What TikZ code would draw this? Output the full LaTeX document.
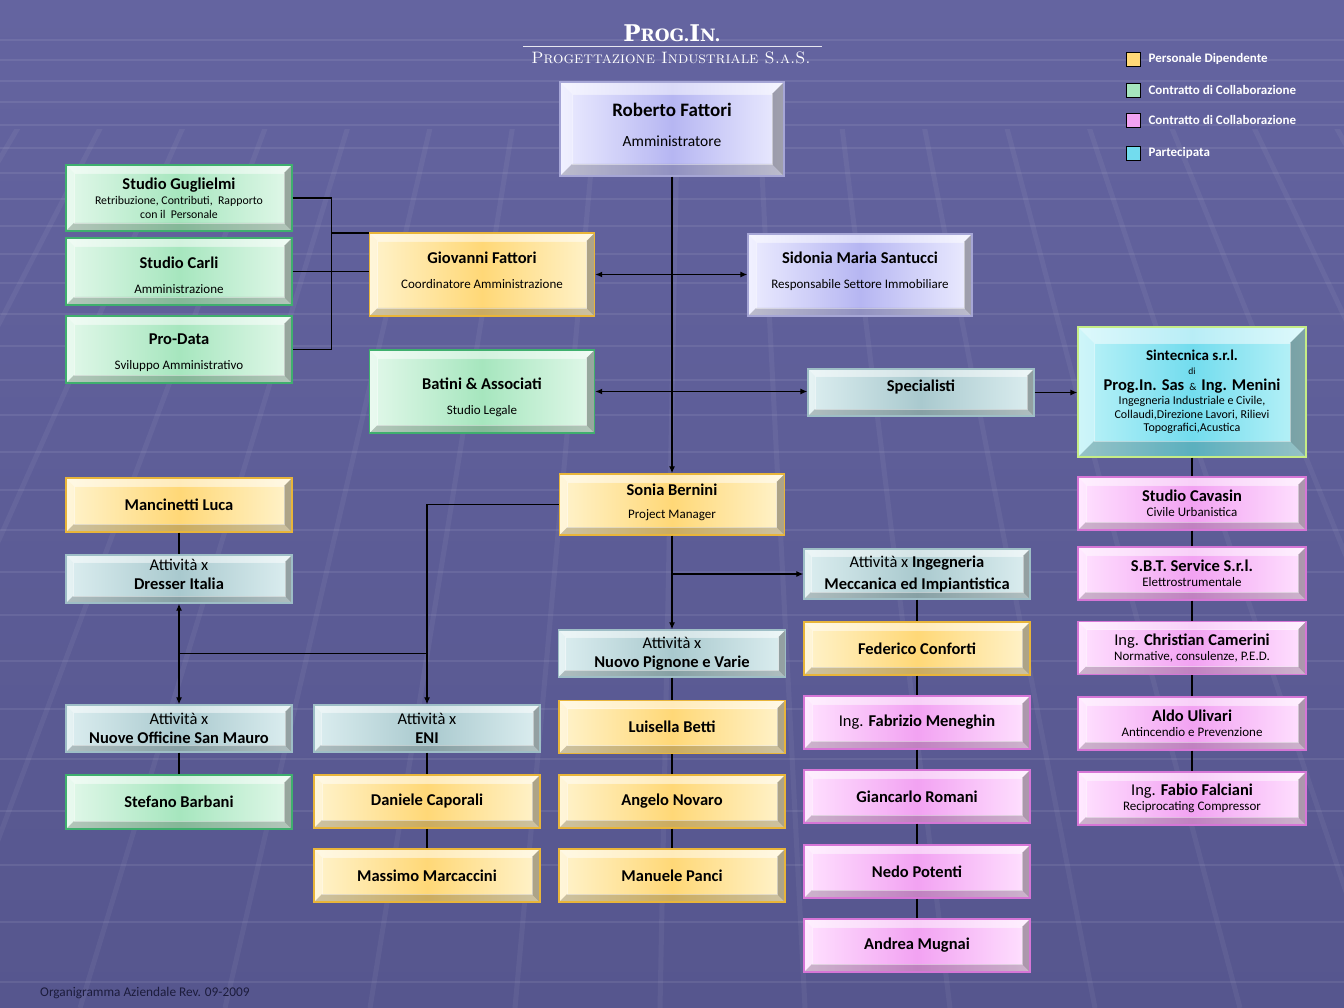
\documentclass[tikz,border=0pt]{standalone}
\usepackage{fontspec}
\newfontfamily\carl{Carlito}
\newfontfamily\ttlfont{DejaVu Serif}
\usetikzlibrary{arrows.meta,positioning}

\definecolor{bgtop}{HTML}{6464A0}
\definecolor{bgbot}{HTML}{56568E}
\definecolor{yelL}{HTML}{FFF3CC}
\definecolor{yelM}{HTML}{FFD877}
\definecolor{yelB}{HTML}{E8B53A}
\definecolor{grnL}{HTML}{E2F8EA}
\definecolor{grnM}{HTML}{A6E6BE}
\definecolor{grnB}{HTML}{3FAF6E}
\definecolor{pnkL}{HTML}{FFE2FF}
\definecolor{pnkM}{HTML}{F2A2F2}
\definecolor{pnkB}{HTML}{D676D6}
\definecolor{cyaL}{HTML}{BDF3F8}
\definecolor{cyaM}{HTML}{72DCEE}
\definecolor{cyaB}{HTML}{C6EC86}
\definecolor{attL}{HTML}{DCEEF0}
\definecolor{attM}{HTML}{A9C9CE}
\definecolor{attB}{HTML}{9EBEC6}
\definecolor{dirL}{HTML}{ECECFF}
\definecolor{dirM}{HTML}{B6B6F2}
\definecolor{dirB}{HTML}{A6A6D6}

\newcommand{\pname}[1]{{\fontsize{16.5}{18}\selectfont\bfseries #1}}
\newcommand{\prole}[1]{{\fontsize{13}{15}\selectfont #1}}
\newcommand{\patt}[1]{{\fontsize{16.5}{18}\selectfont #1}}

\tikzset{
  bevel/.store in=\bevsz, bevel=8pt,
  bevbox/.style={path picture={
    \path (path picture bounding box.north west) coordinate (o1)
          (path picture bounding box.north east) coordinate (o2)
          (path picture bounding box.south east) coordinate (o3)
          (path picture bounding box.south west) coordinate (o4);
    \path ([shift={(\bevsz,-\bevsz)}]o1) coordinate (i1)
          ([shift={(-\bevsz,-\bevsz)}]o2) coordinate (i2)
          ([shift={(-\bevsz,\bevsz)}]o3) coordinate (i3)
          ([shift={(\bevsz,\bevsz)}]o4) coordinate (i4);
    \fill[white,opacity=.5]  (o1) -- (o2) -- (i2) -- (i1) -- cycle;
    \fill[white,opacity=.28] (o1) -- (i1) -- (i4) -- (o4) -- cycle;
    \fill[black,opacity=.2]  (o4) -- (i4) -- (i3) -- (o3) -- cycle;
    \fill[black,opacity=.32] (o2) -- (o3) -- (i3) -- (i2) -- cycle;
    \draw[white,opacity=.45,line width=.6pt] (i1) rectangle (i3);
  }}
}

\begin{document}
\begin{tikzpicture}[x=1pt,y=-1pt,
  box/.style={draw, line width=1.4pt, align=center, inner sep=0pt,
    minimum width=226pt, minimum height=53pt, text=black,
    font=\carl\fontsize{11}{13}\selectfont, bevbox},
  dipbox/.style={box, draw=yelB, left color=yelL, right color=yelL, middle color=yelM},
  colbox/.style={box, draw=grnB, left color=grnL, right color=grnL, middle color=grnM},
  extbox/.style={box, draw=pnkB, left color=pnkL, right color=pnkL, middle color=pnkM},
  parbox/.style={box, draw=cyaB, left color=cyaL, right color=cyaL, middle color=cyaM},
  attbox/.style={box, draw=attB, left color=attL, right color=attL, middle color=attM,
    minimum height=47pt, bevel=7pt},
  dirbox/.style={box, draw=dirB, left color=dirL, right color=dirL, middle color=dirM},
  key/.style={draw=black, line width=.8pt, minimum size=14pt, inner sep=0pt},
  keytext/.style={text=white, font=\carl\bfseries\fontsize{13}{15}\selectfont, inner sep=0pt},
  link/.style={line width=1.2pt, black},
  >={Latex[length=7pt,width=6pt]}]

\useasboundingbox (0,0) rectangle (1344,1008);
\fill[top color=bgtop, bottom color=bgbot] (0,0) rectangle (1344,1008);

% griglia di sfondo
\begin{scope}[white, opacity=.08, line width=2.5pt]
\foreach \y in {40,60,81,102,125,148,173,199,226,254,283,314,346,380,415,452,490,530,572,615,661,709,759,811,865,922,982}
  \draw (0,\y) -- (1344,\y);
\end{scope}
\begin{scope}[white, opacity=.05, line width=5pt]
\clip (0,130) rectangle (1344,1008);
\foreach \x in {-1370,-1225,...,2800}
  \draw (700,-1031) -- (\x,1008);
\end{scope}

% titolo
\node[text=white, font=\ttlfont\bfseries] (ttl) at (672,33)
  {\fontsize{23}{25}\selectfont P\fontsize{17}{19}\selectfont ROG.\fontsize{23}{25}\selectfont I\fontsize{17}{19}\selectfont N.};
\draw[white, opacity=.85, line width=1pt] (523,47) -- (822,47);
\node[text=white] (sub) at (671,58)
  {\fontsize{16.5}{18}\selectfont\scshape Progettazione Industriale S.a.S.};

% legenda
\node[key, fill=yelM] (k1) at (1133,59) {};
\node[key, fill=grnM] (k2) at (1133,90) {};
\node[key, fill=pnkM] (k3) at (1133,120) {};
\node[key, fill=cyaM] (k4) at (1133,153) {};
\node[keytext, right=8pt of k1] (t1) {Personale Dipendente};
\node[keytext, right=8pt of k2] (t2) {Contratto di Collaborazione};
\node[keytext, right=8pt of k3] (t3) {Contratto di Collaborazione};
\node[keytext, right=8pt of k4] (t4) {Partecipata};

% vertice
\node[dirbox, minimum width=224pt, minimum height=94pt, bevel=12pt] (rf) at (672,129)
  {{\fontsize{19}{21}\selectfont\bfseries Roberto Fattori}\\[17pt]{\fontsize{15.5}{17}\selectfont Amministratore}\\[-5pt]};

% studi esterni
\node[colbox, minimum height=66pt] (sg) at (179,198)
  {\pname{Studio Guglielmi}\\[2pt]{\fontsize{11.8}{13}\selectfont Retribuzione, Contributi,\ \ Rapporto}\\[1pt]{\fontsize{11.8}{13}\selectfont con il\ \ Personale}};
\node[colbox, minimum height=67pt] (sc) at (179,271.5)
  {\pname{Studio Carli}\\[12pt]\prole{Amministrazione}\\[-21pt]};
\node[colbox, minimum height=67pt] (pd) at (179,349.5)
  {\pname{Pro-Data}\\[12pt]\prole{Sviluppo Amministrativo}\\[-17pt]};

% secondo livello
\node[dipbox, minimum width=225pt, minimum height=83pt] (gf) at (482,274.5)
  {\pname{Giovanni Fattori}\\[12pt]\prole{Coordinatore Amministrazione}\\[-5pt]};
\node[dirbox, minimum width=224pt, minimum height=82pt] (sms) at (860,275)
  {\pname{Sidonia Maria Santucci}\\[12pt]\prole{Responsabile Settore Immobiliare}\\[-3pt]};
\node[colbox, minimum width=225pt, minimum height=83pt] (ba) at (482,391.5)
  {\pname{Batini \& Associati}\\[12pt]\prole{Studio Legale}\\[-23pt]};
\node[attbox] (sp) at (921,392.5) {\pname{Specialisti}\\[0pt]};
\node[parbox, minimum width=228pt, minimum height=130pt, bevel=16pt] (st) at (1192,392)
  {{\fontsize{15}{17}\selectfont\bfseries Sintecnica s.r.l.}\\[1pt]
   {\fontsize{9.5}{10}\selectfont di}\\[3pt]
   \pname{Prog.In. Sas}\ \ {\fontsize{10.5}{11}\selectfont\&}\ \ \pname{Ing. Menini}\\[1pt]
   {\fontsize{12}{13}\selectfont Ingegneria Industriale e Civile,}\\[1pt]
   {\fontsize{12}{13}\selectfont Collaudi,Direzione Lavori,\ Rilievi}\\[0pt]
   {\fontsize{12}{13}\selectfont Topografici,Acustica}};

% colonna sinistra
\node[dipbox, minimum height=54pt] (ml) at (179,505) {\pname{Mancinetti Luca}};
\node[attbox, minimum height=48pt] (di) at (179,579) {\patt{Attività x}\\[6pt]\pname{Dresser Italia}\\[-4pt]};
\node[attbox] (nosm) at (179,728.5) {\patt{Attività x}\\[6pt]\pname{Nuove Officine San Mauro}};
\node[colbox, minimum height=54pt] (sbar) at (179,802) {\pname{Stefano Barbani}};

% colonna ENI
\node[attbox] (eni) at (427,728.5) {\patt{Attività x}\\[6pt]\pname{ENI}};
\node[dipbox] (dc) at (427,801.5) {\pname{Daniele Caporali}};
\node[dipbox] (mm) at (427,875.5) {\pname{Massimo Marcaccini}};

% colonna centrale
\node[dipbox, minimum width=225pt, minimum height=61pt] (sbn) at (672,504.5)
  {\pname{Sonia Bernini}\\[10pt]\prole{Project Manager}\\[-7pt]};
\node[attbox, minimum width=227pt] (np) at (672,653.5) {\patt{Attività x}\\[6pt]\pname{Nuovo Pignone e Varie}};
\node[dipbox] (lb) at (672,727) {\pname{Luisella Betti}};
\node[dipbox] (an) at (672,801.5) {\pname{Angelo Novaro}};
\node[dipbox] (mp) at (672,875.5) {\pname{Manuele Panci}};

% colonna ingegneria
\node[attbox, minimum height=50pt] (ing) at (917,574)
  {\patt{Attività x \textbf{Ingegneria}}\\[6pt]\pname{Meccanica ed Impiantistica}};
\node[dipbox] (fc) at (917,648.5) {\pname{Federico Conforti}};
\node[extbox] (fm) at (917,722.5) {\patt{Ing. \textbf{Fabrizio Meneghin}}};
\node[extbox] (gr) at (917,796.5) {\pname{Giancarlo Romani}};
\node[extbox] (npo) at (917,871.5) {\pname{Nedo Potenti}};
\node[extbox] (am) at (917,945.5) {\pname{Andrea Mugnai}};

% colonna destra
\node[extbox, minimum width=228pt] (cav) at (1192,503.5) {\pname{Studio Cavasin}\\[2pt]\prole{Civile Urbanistica}};
\node[extbox, minimum width=228pt] (sbt) at (1192,573.5) {\pname{S.B.T. Service S.r.l.}\\[2pt]\prole{Elettrostrumentale}};
\node[extbox, minimum width=228pt] (cc) at (1192,648) {\patt{Ing. \textbf{Christian Camerini}}\\[2pt]\prole{Normative,\ consulenze,\ P.E.D.}};
\node[extbox, minimum width=228pt] (au) at (1192,723.5) {\pname{Aldo Ulivari}\\[2pt]\prole{Antincendio e Prevenzione}};
\node[extbox, minimum width=228pt] (ff) at (1192,798.5) {\patt{Ing. \textbf{Fabio Falciani}}\\[2pt]\prole{Reciprocating Compressor}};

\node[anchor=west, text={rgb,255:red,28;green,28;blue,60}, font=\carl\fontsize{13.3}{15}\selectfont, inner sep=0pt]
  (foot) at (40,993) {Organigramma Aziendale Rev. 09-2009};

% collegamenti
\draw[link,->] (rf.south) -- (sbn.north);
\draw[link,<->] (gf.east) -- (gf.east -| sms.west);
\draw[link,<->] (ba.east) -- (ba.east -| sp.west);
\draw[link,->] (sp.east) -- (sp.east -| st.west);
\draw[link] (sg.east) -- ++(39,0) |- (pd.east);
\draw[link] (sc.east) -- (sc.east -| gf.west);
\coordinate (brk) at (331,233);
\draw[link] (brk) -- (brk -| gf.west);

\draw[link,->] (sbn.west) -| (eni.north);
\coordinate (j2) at (eni.north |- np.west);
\draw[link] (j2) -- (j2 -| di.south);
\draw[link,<->] (di.south) -- (nosm.north);
\draw[link,->] (sbn.south) -- (np.north);
\draw[link,->] (sbn.south |- ing.west) -- (ing.west);

\foreach \a/\b in {ml/di, nosm/sbar, eni/dc, dc/mm, np/lb, lb/an, an/mp,
                   ing/fc, fc/fm, fm/gr, gr/npo, npo/am,
                   st/cav, cav/sbt, sbt/cc, cc/au, au/ff}
  \draw[link] (\a.south) -- (\b.north);
\end{tikzpicture}
\end{document}
